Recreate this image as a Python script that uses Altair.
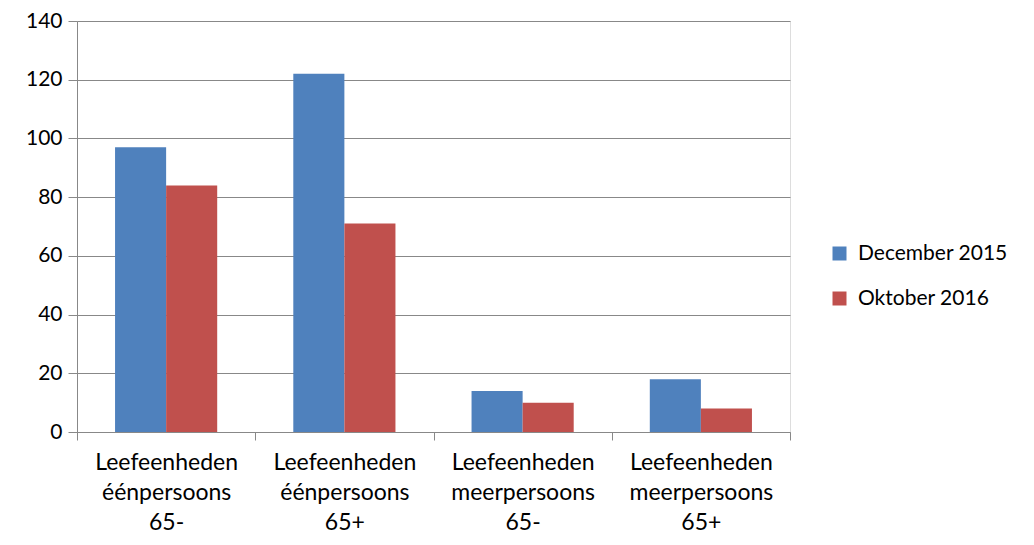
import altair as alt
import pandas as pd

categories = [
    "Leefeenheden\néénpersoons\n65-",
    "Leefeenheden\néénpersoons\n65+",
    "Leefeenheden\nmeerpersoons\n65-",
    "Leefeenheden\nmeerpersoons\n65+",
]
series = ["December 2015", "Oktober 2016"]
dec_2015 = [97, 122, 14, 18]
okt_2016 = [84, 71, 10, 8]
colors = ["#4F81BD", "#C0504D"]

rows = []
for c, v in zip(categories, dec_2015):
    rows.append({"cat": c, "series": series[0], "value": v})
for c, v in zip(categories, okt_2016):
    rows.append({"cat": c, "series": series[1], "value": v})
df = pd.DataFrame(rows)

FONT = "Lato"

chart = alt.Chart(df).mark_bar().encode(
    x=alt.X("cat:N", sort=categories, title=None,
            scale=alt.Scale(paddingInner=0, paddingOuter=0),
            axis=alt.Axis(labelExpr="split(datum.label, '\\n')", labelAngle=0,
                          labelLineHeight=30, labelPadding=11, tickBand="extent",
                          tickSize=8, tickColor="#888888", domainColor="#888888",
                          labelFontSize=23, labelColor="#000000", labelFont=FONT,
                          grid=False)),
    xOffset=alt.XOffset("series:N", sort=series,
                        scale=alt.Scale(paddingInner=0, paddingOuter=0.745)),
    y=alt.Y("value:Q", title=None,
            scale=alt.Scale(domain=[0, 140]),
            axis=alt.Axis(values=[0, 20, 40, 60, 80, 100, 120, 140], tickSize=9,
                          tickColor="#888888", domainColor="#888888",
                          gridColor="#888888", gridWidth=1.2,
                          labelFontSize=21, labelColor="#000000", labelFont=FONT,
                          labelPadding=6)),
    color=alt.Color("series:N", sort=series,
                    scale=alt.Scale(domain=series, range=colors),
                    legend=alt.Legend(title=None, orient="none", legendX=752, legendY=222,
                                      symbolType="square", symbolSize=196,
                                      symbolStrokeWidth=0, labelLimit=400,
                                      labelFontSize=21, labelFont=FONT, labelColor="#000000",
                                      rowPadding=23, labelOffset=8)),
).properties(
    width=713, height=411,
    autosize=alt.AutoSizeParams(type="none"),
    padding={"left": 69, "top": 13, "right": 230, "bottom": 105},
).configure_view(stroke=None).configure(background="white")

chart.save("out.html", embed_options={"renderer": "svg", "actions": False})
